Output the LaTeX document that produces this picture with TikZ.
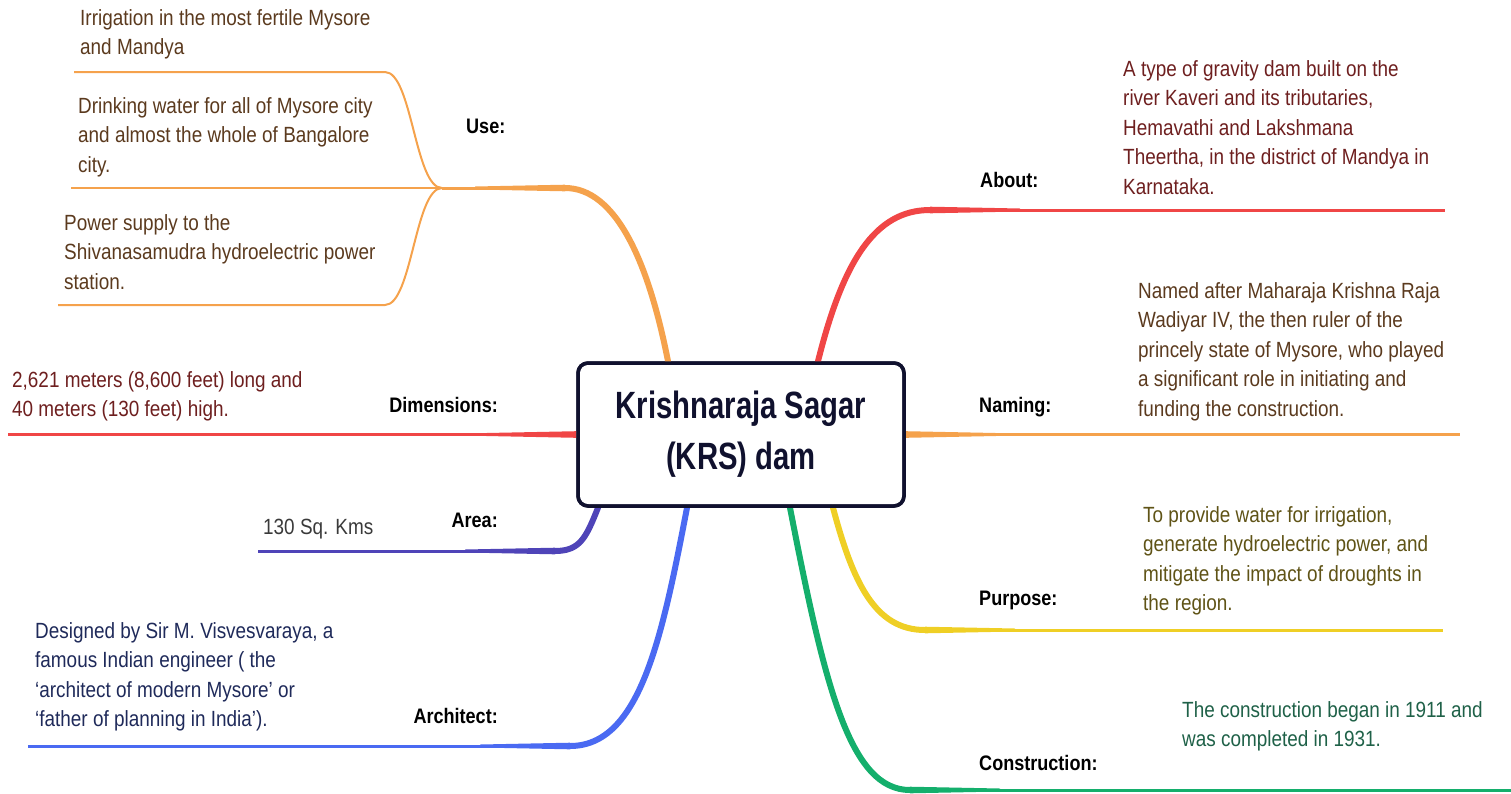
\documentclass[tikz,border=0pt]{standalone}
\usepackage{fontspec}
\setmainfont{Liberation Sans}[FakeStretch=0.86]
\newfontfamily\ttlfont{Liberation Sans}[FakeStretch=0.77]
\usetikzlibrary{calc}
\definecolor{cOrange}{HTML}{F5A24C}
\definecolor{cRed}{HTML}{F04646}
\definecolor{cPurple}{HTML}{4F44B8}
\definecolor{cBlue}{HTML}{4A6AF2}
\definecolor{cYellow}{HTML}{EFCF25}
\definecolor{cGreen}{HTML}{14AF6C}
\definecolor{cNavy}{HTML}{10112E}
\definecolor{tBrown}{HTML}{5B3A1E}
\definecolor{tRed}{HTML}{6E1F1F}
\definecolor{tGrey}{HTML}{3A3A3A}
\definecolor{tNavy}{HTML}{1F2A5A}
\definecolor{tOlive}{HTML}{5F5316}
\definecolor{tGreen}{HTML}{1F6148}
\newcommand\mytaper[3]{\fill[#1] ($(#2)+(0,-3.3)$) -- ($(#2)+(#3*90,-1.5)$) -- ($(#2)+(#3*90,1.5)$) -- ($(#2)+(0,3.3)$) -- cycle;}
\begin{document}
\begin{tikzpicture}[x=1pt,y=-1pt,
  lbl/.style={font=\fontsize{21}{25}\selectfont\bfseries, inner sep=0},
  lblL/.style={lbl, anchor=base east},
  lblR/.style={lbl, anchor=base west},
  txt/.style={font=\fontsize{22}{29.5}\selectfont, align=left, anchor=north west, inner sep=0},
  curvepart/.style={line width=6pt, line cap=round},
  flatpart/.style={line width=3pt},
  subpart/.style={line width=2pt},
  box/.style={draw=cNavy, line width=3.5pt, rounded corners=10pt, fill=white,
    minimum width=326pt, minimum height=143pt, align=center, inner sep=0,
    font=\ttlfont\fontsize{38}{51}\selectfont\bfseries, text=cNavy}]
\useasboundingbox (0,0) rectangle (1511,793);

% central node
\node[box] (kr) at (741,434.5) {Krishnaraja Sagar\\(KRS) dam};

% coordinates
\coordinate (useS) at ($(kr.north)+(-73,0)$);
\coordinate (aboutS) at ($(kr.north)+(77,0)$);
\coordinate (areaS) at ($(kr.south)+(-143,0)$);
\coordinate (archS) at ($(kr.south)+(-54,0)$);
\coordinate (conS) at ($(kr.south)+(49,0)$);
\coordinate (purS) at ($(kr.south)+(92,0)$);
\coordinate (useC) at (565,188);
\coordinate (useJ) at (442,188);
\coordinate (u1C) at (385,72);
\coordinate (u1E) at (74,72);
\coordinate (u2E) at (71,188);
\coordinate (u3C) at (385,305);
\coordinate (u3E) at (58,305);
\coordinate (dimE) at (8,434.5);
\coordinate (areaC) at (555,551);
\coordinate (areaE) at (258,551);
\coordinate (archC) at (570,746);
\coordinate (archE) at (28,746);
\coordinate (aboutC) at (930,210);
\coordinate (aboutE) at (1445,210);
\coordinate (namE) at (1460,434.5);
\coordinate (purC) at (925,630);
\coordinate (purE) at (1443,630);
\coordinate (conC) at (910,790);
\coordinate (conE) at (1511,790);

% Use
\draw[cOrange, curvepart] (useS) .. controls +(-20,-102) and +(50,0) .. (useC);
\mytaper{cOrange}{useC}{-1}
\draw[cOrange, flatpart] (useC) -- (useJ);
\draw[cOrange, subpart] (useJ) .. controls +(-27,0) and +(27,0) .. (u1C) -- (u1E);
\draw[cOrange, subpart] (useJ) -- (u2E);
\draw[cOrange, subpart] (useJ) .. controls +(-27,0) and +(27,0) .. (u3C) -- (u3E);

% About
\draw[cRed, curvepart] (aboutS) .. controls +(25,-100) and +(-55,0) .. (aboutC);
\mytaper{cRed}{aboutC}{1}
\draw[cRed, flatpart] (aboutC) -- (aboutE);

% Dimensions
\mytaper{cRed}{kr.west}{-1}
\draw[cRed, flatpart] (kr.west) -- (dimE);

% Naming
\mytaper{cOrange}{kr.east}{1}
\draw[cOrange, flatpart] (kr.east) -- (namE);

% Area
\draw[cPurple, curvepart] (areaS) .. controls +(-12,30) and +(25,0) .. (areaC);
\mytaper{cPurple}{areaC}{-1}
\draw[cPurple, flatpart] (areaC) -- (areaE);

% Architect
\draw[cBlue, curvepart] (archS) .. controls +(-25,130) and +(70,0) .. (archC);
\mytaper{cBlue}{archC}{-1}
\draw[cBlue, flatpart] (archC) -- (archE);

% Purpose
\draw[cYellow, curvepart] (purS) .. controls +(20,75) and +(-50,0) .. (purC);
\mytaper{cYellow}{purC}{1}
\draw[cYellow, flatpart] (purC) -- (purE);

% Construction
\draw[cGreen, curvepart] (conS) .. controls +(35,180) and +(-60,0) .. (conC);
\mytaper{cGreen}{conC}{1}
\draw[cGreen, flatpart] (conC) -- (conE);

% redraw box border on top
\node[box, fill=none] at (kr.center) {};

% labels
\node[lblR] (lUse) at (466,133) {Use:};
\node[lblL] (lDim) at (498,412) {Dimensions:};
\node[lblL] (lArea) at (498,527) {Area:};
\node[lblL] (lArch) at (498,723) {Architect:};
\node[lblR] (lAbout) at (980,187) {About:};
\node[lblR] (lNam) at (979,412) {Naming:};
\node[lblR] (lPur) at (979,605) {Purpose:};
\node[lblR] (lCon) at (979,770) {Construction:};

% texts
\node[txt, text=tBrown] (t1) at (80,9) {Irrigation in the most fertile Mysore\\and Mandya};
\node[txt, text=tBrown] (t2) at (78,97) {Drinking water for all of Mysore city\\and almost the whole of Bangalore\\city.};
\node[txt, text=tBrown] (t3) at (64,214) {Power supply to the\\Shivanasamudra hydroelectric power\\station.};
\node[txt, text=tRed] (tDim) at (12,371) {2,621 meters (8,600 feet) long and\\40 meters (130 feet) high.};
\node[txt, text=tGrey] (tArea) at (263,519) {130 Sq. Kms};
\node[txt, text=tNavy] (tArch) at (35,622) {Designed by Sir M. Visvesvaraya, a\\famous Indian engineer ( the\\‘architect of modern Mysore’ or\\‘father of planning in India’).};
\node[txt, text=tRed] (tAbout) at (1123,60) {A type of gravity dam built on the\\river Kaveri and its tributaries,\\Hemavathi and Lakshmana\\Theertha, in the district of Mandya in\\Karnataka.};
\node[txt, text=tBrown] (tNam) at (1138,282) {Named after Maharaja Krishna Raja\\Wadiyar IV, the then ruler of the\\princely state of Mysore, who played\\a significant role in initiating and\\funding the construction.};
\node[txt, text=tOlive] (tPur) at (1143,506) {To provide water for irrigation,\\generate hydroelectric power, and\\mitigate the impact of droughts in\\the region.};
\node[txt, text=tGreen] (tCon) at (1182,701) {The construction began in 1911 and\\was completed in 1931.};
\end{tikzpicture}
\end{document}
